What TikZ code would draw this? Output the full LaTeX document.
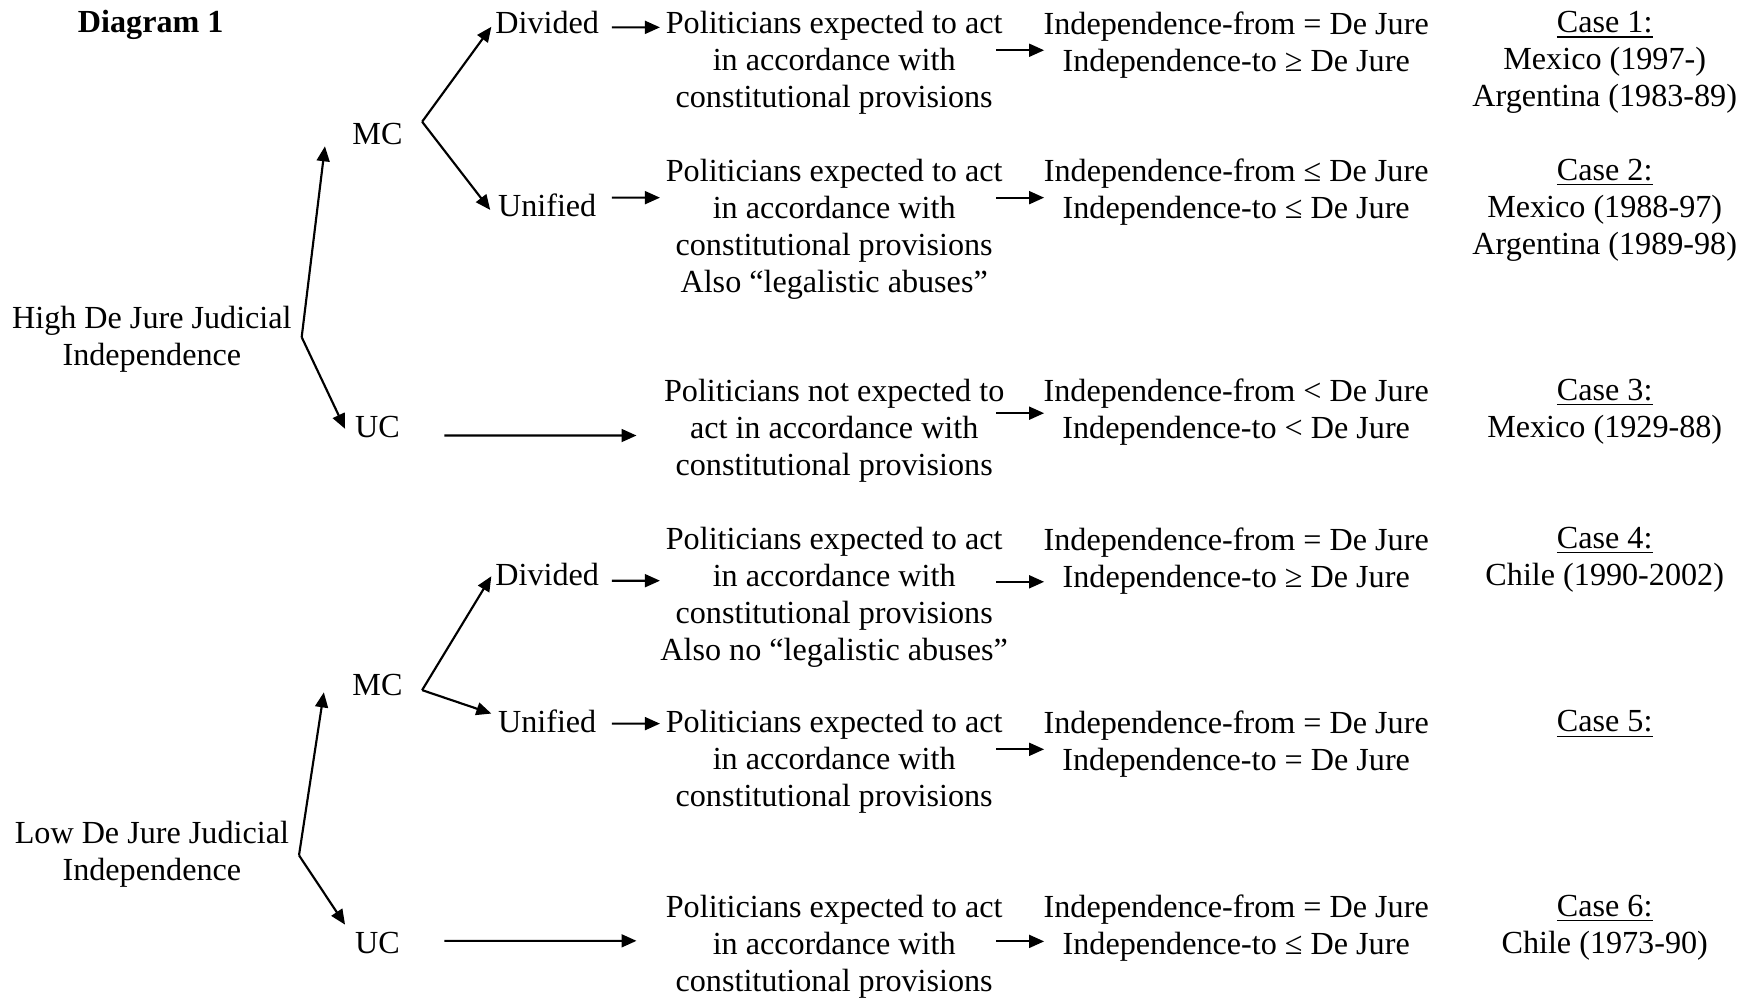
\documentclass[tikz,border=0pt]{standalone}
\usepackage{fontspec}
\setmainfont{Liberation Serif}
\usetikzlibrary{arrows.meta,calc}

\begin{document}
\begin{tikzpicture}[x=0.4167pt,y=-0.4167pt,
  >={Triangle[length=5.6pt,width=4.8pt]},
  every node/.style={inner sep=0pt,outer sep=0pt,font=\fontsize{12pt}{13.8pt}\selectfont},
  txt/.style={anchor=north,align=center},
  lbl/.style={anchor=base},
  link/.style={->,line width=0.8pt}]
\useasboundingbox (0,0) rectangle (1568,894);
% left side
\node[lbl,font=\fontsize{12pt}{13.8pt}\selectfont\bfseries] (title) at (135,29) {Diagram 1};
\node[txt] (high) at (136,274.3) {High De Jure Judicial\\Independence};
\node[txt] (low) at (136,735.3) {Low De Jure Judicial\\Independence};
\node[lbl] (mc1) at (338,129) {MC};
\node[lbl] (uc1) at (338,392) {UC};
\node[lbl] (mc2) at (338,623) {MC};
\node[lbl] (uc2) at (338,854) {UC};
\node[lbl] (div1) at (490,30) {Divided};
\node[lbl] (uni1) at (490,194) {Unified};
\node[lbl] (div2) at (490,524) {Divided};
\node[lbl] (uni2) at (490,656) {Unified};
% expectations
\node[txt] (pa1) at (747,10.3) {Politicians expected to act\\in accordance with\\constitutional provisions};
\node[txt] (pa2) at (747,142.3) {Politicians expected to act\\in accordance with\\constitutional provisions\\Also “legalistic abuses”};
\node[txt] (pa3) at (747,339.3) {Politicians not expected to\\act in accordance with\\constitutional provisions};
\node[txt] (pa4) at (747,472.3) {Politicians expected to act\\in accordance with\\constitutional provisions\\Also no “legalistic abuses”};
\node[txt] (pa5) at (747,636.3) {Politicians expected to act\\in accordance with\\constitutional provisions};
\node[txt] (pa6) at (747,801.3) {Politicians expected to act\\in accordance with\\constitutional provisions};
% outcomes
\node[txt] (pb1) at (1107,10.3) {Independence-from = De Jure\\Independence-to ≥ De Jure};
\node[txt] (pb2) at (1107,142.3) {Independence-from ≤ De Jure\\Independence-to ≤ De Jure};
\node[txt] (pb3) at (1107,339.3) {Independence-from < De Jure\\Independence-to < De Jure};
\node[txt] (pb4) at (1107,472.3) {Independence-from = De Jure\\Independence-to ≥ De Jure};
\node[txt] (pb5) at (1107,636.3) {Independence-from = De Jure\\Independence-to = De Jure};
\node[txt] (pb6) at (1107,801.3) {Independence-from = De Jure\\Independence-to ≤ De Jure};
% cases
\node[txt] (pc1) at (1437,10.3) {\underline{Case 1:}\\Mexico (1997-)\\Argentina (1983-89)};
\node[txt] (pc2) at (1437,142.3) {\underline{Case 2:}\\Mexico (1988-97)\\Argentina (1989-98)};
\node[txt] (pc3) at (1437,339.3) {\underline{Case 3:}\\Mexico (1929-88)};
\node[txt] (pc4) at (1437,472.3) {\underline{Case 4:}\\Chile (1990-2002)};
\node[txt] (pc5) at (1437,636.3) {\underline{Case 5:}};
\node[txt] (pc6) at (1437,801.3) {\underline{Case 6:}\\Chile (1973-90)};
% branches
\path[link] ($(high.east)+(9,-2)$) edge ($(mc1.base)+(-47,2)$)
  ($(high.east)+(9,-2)$) edge ($(uc1.base)+(-29,-8)$);
\path[link] ($(mc1.base)+(40,-20)$) edge ($(div1.base)+(-50,-6)$)
  ($(mc1.base)+(40,-20)$) edge ($(uni1.base)+(-51,-6)$);
\path[link] ($(low.east)+(9,1)$) edge ($(mc2.base)+(-48,-3)$)
  ($(low.east)+(9,1)$) edge ($(uc2.base)+(-29,-26)$);
\path[link] ($(mc2.base)+(40,-5)$) edge ($(div2.base)+(-50,-8)$)
  ($(mc2.base)+(40,-5)$) edge ($(uni2.base)+(-50,-17)$);
% into expectations
\path[link] ($(div1.base)+(58,-5.5)$) edge ($(pa1.north)+(-156,14.2)$);
\path[link] ($(uni1.base)+(58,-17)$) edge ($(pa2.north)+(-156,34.7)$);
\path[link] ($(uc1.base)+(60,-2)$) edge ($(pa3.north)+(-177,50.7)$);
\path[link] ($(div2.base)+(58,-4)$) edge ($(pa4.north)+(-156,47.7)$);
\path[link] ($(uni2.base)+(58,-8)$) edge ($(pa5.north)+(-156,11.7)$);
\path[link] ($(uc2.base)+(60,-11.5)$) edge ($(pa6.north)+(-177,41.2)$);
% into outcomes
\path[link] ($(pa1.north)+(145,34.7)$) edge ($(pb1.north)+(-172,34.7)$);
\path[link] ($(pa2.north)+(145,34.7)$) edge ($(pb2.north)+(-172,34.7)$);
\path[link] ($(pa3.north)+(145,30.7)$) edge ($(pb3.north)+(-172,30.7)$);
\path[link] ($(pa4.north)+(145,48.7)$) edge ($(pb4.north)+(-172,48.7)$);
\path[link] ($(pa5.north)+(145,34.7)$) edge ($(pb5.north)+(-172,34.7)$);
\path[link] ($(pa6.north)+(145,41.7)$) edge ($(pb6.north)+(-172,41.7)$);
\end{tikzpicture}
\end{document}
